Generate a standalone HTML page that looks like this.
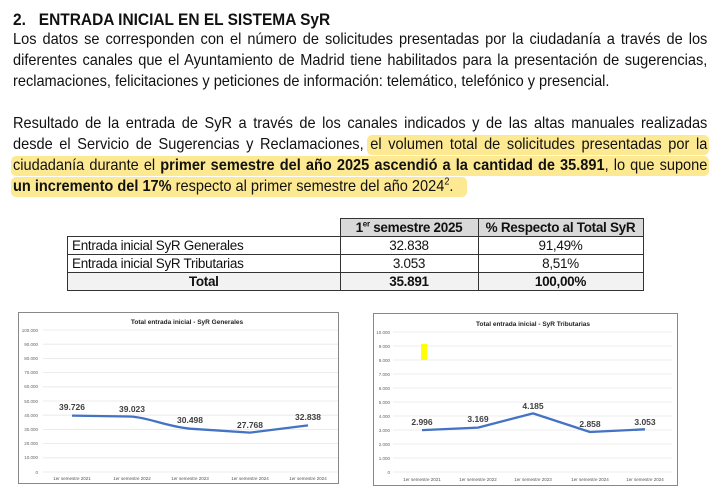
<!DOCTYPE html>
<html><head><meta charset="utf-8">
<style>
body{margin:0;width:723px;height:497px;background:#fff;position:relative;overflow:hidden;font-family:"Liberation Sans Narrow","Liberation Sans",sans-serif;color:#111}
.ln{position:absolute;left:13px;width:763px;font-size:16px;line-height:20px;white-space:nowrap;transform:scaleX(.91);transform-origin:0 0}
.j{text-align:justify;text-align-last:justify;white-space:normal;height:20px;overflow:hidden}
.hl{position:absolute;background:#fde992;border-radius:5px}
table{position:absolute;left:67px;top:218px;border-collapse:collapse;font-size:13.5px;letter-spacing:-0.3px;white-space:nowrap}
td{border:1px solid #333;height:17px;padding:0 4px;line-height:17px}
</style></head><body>
<div class="ln" style="top:10px;font-weight:bold;font-size:17px">2.&nbsp;&nbsp;&nbsp;ENTRADA INICIAL EN EL SISTEMA SyR</div>
<div class="ln j" style="top:30px">Los datos se corresponden con el número de solicitudes presentadas por la ciudadanía a través de los</div>
<div class="ln j" style="top:51px">diferentes canales que el Ayuntamiento de Madrid tiene habilitados para la presentación de sugerencias,</div>
<div class="ln" style="top:72px">reclamaciones, felicitaciones y peticiones de información: telemático, telefónico y presencial.</div>
<div class="hl" style="left:367px;top:135px;width:342px;height:20px"></div>
<div class="hl" style="left:11px;top:156px;width:698px;height:20px"></div>
<div class="hl" style="left:11px;top:177px;width:456px;height:20px"></div>
<div class="ln j" style="top:114px">Resultado de la entrada de SyR a través de los canales indicados y de las altas manuales realizadas</div>
<div class="ln j" style="top:135px">desde el Servicio de Sugerencias y Reclamaciones, el volumen total de solicitudes presentadas por la</div>
<div class="ln j" style="top:156px">ciudadanía durante el <b>primer semestre del año 2025 ascendió a la cantidad de 35.891</b>, lo que supone</div>
<div class="ln" style="top:177px"><b>un incremento del 17%</b> respecto al primer semestre del año 2024<sup style="font-size:10px;line-height:0">2</sup>.</div>
<table>
<tr><td style="border:none;width:264px"></td><td style="background:#d9d9d9;width:129px;text-align:center;font-weight:bold">1<sup style="font-size:8px;line-height:0">er</sup> semestre 2025</td><td style="background:#d9d9d9;width:156px;text-align:center;font-weight:bold">% Respecto al Total SyR</td></tr>
<tr><td>Entrada inicial SyR Generales</td><td style="text-align:center">32.838</td><td style="text-align:center">91,49%</td></tr>
<tr><td>Entrada inicial SyR Tributarias</td><td style="text-align:center">3.053</td><td style="text-align:center">8,51%</td></tr>
<tr style="background:#f2f2f2;font-weight:bold"><td style="text-align:center">Total</td><td style="text-align:center">35.891</td><td style="text-align:center">100,00%</td></tr>
</table>
<svg width="723" height="497" style="position:absolute;left:0;top:0" font-family="Liberation Sans,sans-serif">
<rect x="18.5" y="312.5" width="320" height="171" fill="#fff" stroke="#888" stroke-width="1"/>
<text x="187" y="324" font-size="6.5" font-weight="bold" text-anchor="middle" fill="#222">Total entrada inicial - SyR Generales</text>
<g stroke="#e6e6e6" stroke-width="0.8">
<line x1="43" x2="338" y1="330" y2="330"/><line x1="43" x2="338" y1="344.2" y2="344.2"/><line x1="43" x2="338" y1="358.4" y2="358.4"/><line x1="43" x2="338" y1="372.6" y2="372.6"/><line x1="43" x2="338" y1="386.8" y2="386.8"/><line x1="43" x2="338" y1="401" y2="401"/><line x1="43" x2="338" y1="415.2" y2="415.2"/><line x1="43" x2="338" y1="429.4" y2="429.4"/><line x1="43" x2="338" y1="443.6" y2="443.6"/><line x1="43" x2="338" y1="457.8" y2="457.8"/><line x1="43" x2="338" y1="472" y2="472"/></g>
<g font-size="4.5" fill="#666" text-anchor="end">
<text x="38" y="332">100.000</text><text x="38" y="346">90.000</text><text x="38" y="360">80.000</text><text x="38" y="374">70.000</text><text x="38" y="388">60.000</text><text x="38" y="403">50.000</text><text x="38" y="417">40.000</text><text x="38" y="431">30.000</text><text x="38" y="445">20.000</text><text x="38" y="459">10.000</text><text x="38" y="474">0</text></g>
<g font-size="4.5" fill="#555" text-anchor="middle">
<text x="72" y="480">1er semestre 2021</text><text x="132" y="480">1er semestre 2022</text><text x="190" y="480">1er semestre 2023</text><text x="250" y="480">1er semestre 2024</text><text x="308" y="480">1er semestre 2024</text></g>
<path d="M72 415.6 L132 416.6 C150 418 165 426 190 428.7 L250 432.6 L308 425.4" fill="none" stroke="#4472c4" stroke-width="2.3" stroke-linejoin="round"/>
<g font-size="8.5" font-weight="bold" fill="#404040" text-anchor="middle">
<text x="72" y="410">39.726</text><text x="132" y="412">39.023</text><text x="190" y="423">30.498</text><text x="250" y="428">27.768</text><text x="308" y="420">32.838</text></g>

<rect x="373.5" y="313.5" width="304" height="172" fill="#fff" stroke="#888" stroke-width="1"/>
<text x="533" y="326" font-size="6.5" font-weight="bold" text-anchor="middle" fill="#222">Total entrada inicial - SyR Tributarias</text>
<g stroke="#e6e6e6" stroke-width="0.8">
<line x1="393" x2="672" y1="332" y2="332"/><line x1="393" x2="672" y1="346" y2="346"/><line x1="393" x2="672" y1="360" y2="360"/><line x1="393" x2="672" y1="374" y2="374"/><line x1="393" x2="672" y1="388" y2="388"/><line x1="393" x2="672" y1="402" y2="402"/><line x1="393" x2="672" y1="416" y2="416"/><line x1="393" x2="672" y1="430" y2="430"/><line x1="393" x2="672" y1="444" y2="444"/><line x1="393" x2="672" y1="458" y2="458"/><line x1="393" x2="672" y1="472" y2="472"/></g>
<g font-size="4.5" fill="#666" text-anchor="end">
<text x="390" y="334">10.000</text><text x="390" y="348">9.000</text><text x="390" y="362">8.000</text><text x="390" y="376">7.000</text><text x="390" y="390">6.000</text><text x="390" y="404">5.000</text><text x="390" y="418">4.000</text><text x="390" y="432">3.000</text><text x="390" y="446">2.000</text><text x="390" y="460">1.000</text><text x="390" y="474">0</text></g>
<rect x="421" y="344" width="6" height="16" fill="#ffff00"/>
<g font-size="4.5" fill="#555" text-anchor="middle">
<text x="422" y="481">1er semestre 2021</text><text x="478" y="481">1er semestre 2022</text><text x="533" y="481">1er semestre 2023</text><text x="590" y="481">1er semestre 2024</text><text x="645" y="481">1er semestre 2024</text></g>
<path d="M422 430.1 L478 427.6 L533 413.4 L590 432 L645 429.3" fill="none" stroke="#4472c4" stroke-width="2.3" stroke-linejoin="round"/>
<g font-size="8.5" font-weight="bold" fill="#404040" text-anchor="middle">
<text x="422" y="425">2.996</text><text x="478" y="422">3.169</text><text x="533" y="409">4.185</text><text x="590" y="427">2.858</text><text x="645" y="425">3.053</text></g>
</svg>
</body></html>
